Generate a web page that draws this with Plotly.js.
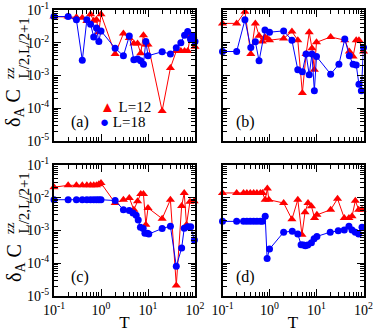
<!DOCTYPE html>
<html>
<head>
<meta charset="utf-8">
<script src="https://cdn.plot.ly/plotly-3.0.1.min.js"></script>
<style>html,body{margin:0;padding:0;background:#fff;}#chart{width:374px;height:332px;}</style>
</head>
<body>
<div id="chart"></div>
<script>
// ---- data ----
// panel (a)
const Ta12 = [0.1,0.2,0.3,0.4,0.5,0.6,0.7,0.8,0.9,1,2,3,4,5,6,7,8,9,10,20,30,40,50,60,70,80,90,100];
const Ya12 = [0.063,0.063,0.060,0.058,0.046,0.074,0.047,0.050,0.021,0.074,0.0045,0.019,0.014,0.0095,0.0095,0.0048,0.017,0.0089,0.0089,8.3e-5,0.0017,0.0056,0.0056,0.0056,0.0056,0.016,0.016,0.0075];
const Ta18 = [0.1,0.2,0.3,0.4,0.5,0.6,0.7,0.8,0.9,1,2,3,4,5,6,7,8,9,10,20,30,40,50,60,70,80,90,100];
const Ya18 = [0.063,0.063,0.050,0.0029,0.050,0.037,0.015,0.028,0.011,0.023,0.0068,0.0040,0.016,0.0030,0.0032,0.0028,0.0022,0.011,0.0040,0.0053,0.0045,0.0070,0.0100,0.017,0.022,0.013,0.0165,0.011];
// panel (b)
const Tb12 = [0.1,0.2,0.3,0.4,0.5,0.6,0.7,0.8,0.9,1,2,3,4,5,6,7,8,9,10,20,40,50,60,70,80,100];
const Yb12 = [0.039,0.039,0.089,0.0045,0.039,0.0165,0.011,0.015,0.0135,0.012,0.0135,0.022,0.012,2.9e-4,0.0045,0.021,0.0068,0.0015,0.0103,0.015,0.012,0.0054,0.0038,0.012,0.012,0.0054];
const Tb18 = [0.1,0.2,0.3,0.4,0.5,0.6,0.8,1,2,3,4,5,6,7,8,9,10,20,30,40,50,60,70,80,90,100];
const Yb18 = [0.0054,0.0054,0.050,0.0071,0.0107,0.0028,0.0245,0.021,0.023,0.012,0.0015,0.0013,0.0045,0.00105,0.0045,3.4e-4,0.0038,0.0011,0.0022,0.013,0.0040,0.0022,0.0021,5.4e-4,3.4e-4,0.0071];
// panel (c)
const Tc12 = [0.1,0.2,0.3,0.4,0.5,0.6,0.7,0.8,0.9,1,2,3,4,5,6,7,8,9,10,20,30,40,52,59,66,78,96];
const Yc12 = [0.021,0.024,0.024,0.024,0.024,0.024,0.024,0.024,0.026,0.028,0.0069,0.0087,0.0099,0.0043,0.0078,0.013,0.013,0.0015,0.0049,0.0023,0.0087,2.1e-5,0.0056,0.014,0.0015,0.0076,0.0078];
const Tc18 = [0.1,0.2,0.3,0.4,0.5,0.6,0.7,0.8,0.9,1,2,3,4,4.8,5.6,6.2,6.9,7.9,8.6,9.7,10.4,20,30,40,52,59,70,81,97];
const Yc18 = [0.0087,0.0087,0.0087,0.0087,0.0087,0.0087,0.0087,0.0087,0.0087,0.0087,0.0082,0.0043,0.0041,0.0034,0.0029,0.0021,0.00126,0.00115,8.3e-4,8.3e-4,7.8e-4,0.00115,0.00135,8.1e-5,2.9e-4,0.00117,0.0013,0.0013,5.1e-4];
// panel (d)
const Td12 = [0.1,0.2,0.28,0.33,0.39,0.46,0.54,0.64,0.71,0.81,0.9,0.97,2,3,4,4.9,5.7,6.6,7.8,9.1,10.2,20,28,39,49,57,67,79,93];
const Yd12 = [0.014,0.014,0.014,0.014,0.014,0.014,0.014,0.014,0.014,0.0087,0.019,0.0087,0.0069,0.0022,0.0087,7.4e-4,0.0036,0.0069,0.0055,0.0024,0.0030,0.0043,0.0093,0.0024,0.0024,0.0027,0.0081,0.0043,0.0043];
const Td18 = [0.1,0.2,0.28,0.33,0.39,0.46,0.54,0.64,0.71,0.81,0.89,1.0,2,3.05,4,4.7,5.3,5.8,6.5,7.8,8.9,10.2,19.6,29,39,49,57,67,79,93];
const Yd18 = [0.0019,0.0019,0.0019,0.0019,0.0019,0.0019,0.0019,0.0019,0.0019,0.0027,1.4e-4,2.7e-4,8.9e-4,9.5e-4,7.8e-4,3.7e-4,3.6e-4,3.4e-4,3.6e-4,4.2e-4,5.6e-4,6.6e-4,8.9e-4,9.8e-4,0.00104,0.00135,0.00104,8.9e-4,7.8e-4,0.00126];

const seriesNames = ['L=12','L=18'];
const panelLabels = ['(a)','(b)','(c)','(d)'];
const xTitle = 'T';
const xTickVals = [0.1,1,10,100];
const xTickText = ['10<sup>-1</sup>','10<sup>0</sup>','10<sup>1</sup>','10<sup>2</sup>'];
const yTickVals = [1e-5,1e-4,1e-3,1e-2,1e-1];
const yTickText = ['10<sup>-5</sup>','10<sup>-4</sup>','10<sup>-3</sup>','10<sup>-2</sup>','10<sup>-1</sup>'];

const RED = '#ff0000', BLUE = '#0000ff';
const FONT = 'Liberation Serif, Times New Roman, serif';

function pair(T12,Y12,T18,Y18,ax){
  const xa = ax===1?'x':'x'+ax, ya = ax===1?'y':'y'+ax;
  return [
    {x:T12,y:Y12,xaxis:xa,yaxis:ya,mode:'lines+markers',name:seriesNames[0],cliponaxis:false,
     line:{color:RED,width:1},marker:{symbol:'triangle-up',size:8,color:RED}},
    {x:T18,y:Y18,xaxis:xa,yaxis:ya,mode:'lines+markers',name:seriesNames[1],cliponaxis:false,
     line:{color:BLUE,width:1},marker:{symbol:'circle',size:7,color:BLUE}}
  ];
}
const data = [].concat(
  pair(Ta12,Ya12,Ta18,Ya18,1),
  pair(Tb12,Yb12,Tb18,Yb18,2),
  pair(Tc12,Yc12,Tc18,Yc18,3),
  pair(Td12,Yd12,Td18,Yd18,4)
);

// minor tick positions (2..9 in every decade)
function minorVals(lo,hi){const v=[];for(let e=lo;e<hi;e++){for(let k=2;k<=9;k++){v.push(k*Math.pow(10,e));}}return v;}

const W=374,H=332;
const px = v=>v/W, py = v=>1-v/H;
const colL=[54,195], colR=[222.5,363.5], rowT=[10,141], rowB=[165,296];

function common(){
  return {type:'log',showline:true,linecolor:'#000',linewidth:2,mirror:'allticks',
    ticks:'inside',ticklen:7,tickwidth:1,tickcolor:'#000',tickmode:'array',
    showgrid:false,zeroline:false,tickfont:{family:FONT,size:14,color:'#000'}};
}
function xax(dom,anchor,labels){
  return Object.assign(common(),{range:[-1,2],domain:[px(dom[0]),px(dom[1])],anchor:anchor,
    tickvals:xTickVals,ticktext:xTickText,showticklabels:labels,
    minor:{tickmode:'array',tickvals:minorVals(-1,2),ticks:'inside',ticklen:4,tickwidth:1,tickcolor:'#000',showgrid:false},
    title: labels?{text:xTitle,font:{family:FONT,size:17,color:'#000'},standoff:0}:{text:''}});
}
function yax(dom,anchor,labels){
  return Object.assign(common(),{range:[-5,-1],domain:[py(dom[1]),py(dom[0])],anchor:anchor,
    tickvals:yTickVals,ticktext:yTickText,showticklabels:labels,
    minor:{tickmode:'array',tickvals:minorVals(-5,-1),ticks:'inside',ticklen:4,tickwidth:1,tickcolor:'#000',showgrid:false}});
}

const annotations = [];
function label(txt,x,y){
  annotations.push({text:txt,xref:'paper',yref:'paper',x:px(x),y:py(y),xanchor:'left',yanchor:'middle',
    showarrow:false,font:{family:FONT,size:16,color:'#000'}});
}
label(panelLabels[0],69,122); label(panelLabels[1],234,122);
label(panelLabels[2],69,277); label(panelLabels[3],234,277);

// legend (panel a)
annotations.push({text:'<span style="color:'+RED+'">▲</span> '+seriesNames[0],xref:'paper',yref:'paper',
  x:px(98),y:py(107),xanchor:'left',yanchor:'middle',showarrow:false,font:{family:FONT,size:15,color:'#000'}});
annotations.push({text:'<span style="color:'+BLUE+'">●</span> '+seriesNames[1],xref:'paper',yref:'paper',
  x:px(98),y:py(122),xanchor:'left',yanchor:'middle',showarrow:false,font:{family:FONT,size:15,color:'#000'}});

// y-axis titles (stacked sup/sub placed by hand)
function ytitle(off){
  annotations.push({text:'δ<sub>A</sub> C',xref:'paper',yref:'paper',x:px(15),y:py(129+off),
    xanchor:'center',yanchor:'bottom',textangle:-90,showarrow:false,font:{family:FONT,size:20,color:'#000'}});
  annotations.push({text:'zz',xref:'paper',yref:'paper',x:px(9),y:py(81+off),
    xanchor:'center',yanchor:'bottom',textangle:-90,showarrow:false,font:{family:FONT,size:13,color:'#000'}});
  annotations.push({text:'L/2,L/2+1',xref:'paper',yref:'paper',x:px(23),y:py(81+off),
    xanchor:'center',yanchor:'bottom',textangle:-90,showarrow:false,font:{family:FONT,size:15,color:'#000'}});
}
ytitle(0); ytitle(155);

const layout = {
  width:W,height:H,margin:{l:0,r:0,t:0,b:0},showlegend:false,
  paper_bgcolor:'#fff',plot_bgcolor:'#fff',
  xaxis:xax(colL,'y',false), yaxis:yax(rowT,'x',true),
  xaxis2:xax(colR,'y2',false), yaxis2:yax(rowT,'x2',false),
  xaxis3:xax(colL,'y3',true), yaxis3:yax(rowB,'x3',true),
  xaxis4:xax(colR,'y4',true), yaxis4:yax(rowB,'x4',false),
  annotations:annotations
};
Plotly.newPlot('chart',data,layout,{staticPlot:true,displayModeBar:false});
</script>
</body>
</html>
